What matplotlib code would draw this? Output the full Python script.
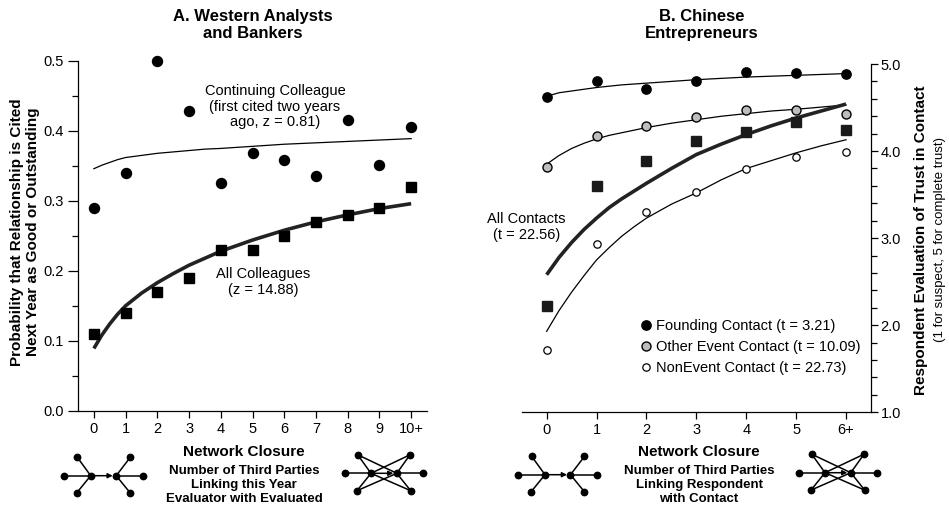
import matplotlib
matplotlib.use("Agg")
import matplotlib.pyplot as plt
from matplotlib.ticker import MultipleLocator, FormatStrFormatter

plt.rcParams['font.family'] = ['Liberation Sans', 'DejaVu Sans']

# ---- Panel A: Western analysts and bankers ----
a_closure = list(range(11))
a_ticklabels = [str(i) for i in range(10)] + ['10+']
a_continuing = [0.290, 0.340, 0.500, 0.429, 0.325, 0.369, 0.358, 0.336, 0.415, 0.351, 0.406]
a_all = [0.110, 0.140, 0.170, 0.190, 0.230, 0.230, 0.250, 0.270, 0.280, 0.290, 0.320]
a_fit_x = [0, 0.25, 0.5, 0.75, 1, 1.5, 2, 2.5, 3, 3.5, 4, 5, 6, 7, 8, 9, 10]
a_fit_continuing = [0.346, 0.351, 0.355, 0.359, 0.362, 0.365, 0.368, 0.370, 0.372, 0.374,
                    0.375, 0.378, 0.381, 0.383, 0.385, 0.387, 0.389]
a_fit_all = [0.089, 0.108, 0.124, 0.138, 0.150, 0.168, 0.183, 0.196, 0.208, 0.218,
             0.228, 0.244, 0.258, 0.270, 0.280, 0.289, 0.296]

# ---- Panel B: Chinese entrepreneurs ----
b_closure = list(range(7))
b_ticklabels = ['0', '1', '2', '3', '4', '5', '6+']
b_founding = [4.625, 4.80, 4.71, 4.80, 4.91, 4.90, 4.89]
b_other = [3.82, 4.17, 4.29, 4.39, 4.47, 4.47, 4.43]
b_nonevent = [1.72, 2.93, 3.30, 3.53, 3.79, 3.93, 3.99]
b_all = [2.22, 3.60, 3.89, 4.11, 4.22, 4.33, 4.24]
b_fit_x = [0, 0.25, 0.5, 0.75, 1, 1.25, 1.5, 1.75, 2, 2.5, 3, 3.5, 4, 4.5, 5, 5.5, 6]
b_fit_founding = [4.63, 4.67, 4.69, 4.71, 4.73, 4.745, 4.76, 4.77, 4.78, 4.80, 4.82,
                  4.835, 4.85, 4.86, 4.87, 4.88, 4.89]
b_fit_other = [3.85, 3.95, 4.03, 4.09, 4.14, 4.18, 4.21, 4.24, 4.27, 4.32, 4.36,
               4.40, 4.43, 4.46, 4.48, 4.505, 4.53]
b_fit_all = [2.58, 2.78, 2.95, 3.10, 3.23, 3.35, 3.45, 3.54, 3.63, 3.80, 3.96,
             4.08, 4.19, 4.29, 4.38, 4.46, 4.54]
b_fit_nonevent = [1.93, 2.17, 2.38, 2.57, 2.75, 2.89, 3.02, 3.13, 3.23, 3.39, 3.52,
                  3.67, 3.80, 3.89, 3.98, 4.06, 4.13]

W, H = 949, 511
fig = plt.figure(figsize=(W / 100, H / 100), dpi=100)


def fx(px):
    return px / W


def fy(py):
    return 1 - py / H


def style_axis(ax):
    for s in ax.spines.values():
        s.set_linewidth(0.9)
    ax.tick_params(which='major', length=5, width=0.9, labelsize=10.5, pad=3)
    ax.tick_params(which='minor', length=4, width=0.9)
    ax.tick_params(axis='x', which='minor', bottom=False)


# panel A
axA = fig.add_axes([fx(78), fy(410.7), fx(427 - 78), (410.7 - 61) / H])
axA.plot(a_fit_x, a_fit_continuing, color='black', lw=0.9)
axA.plot(a_fit_x, a_fit_all, color='#222222', lw=2.6, solid_capstyle='butt')
axA.plot(a_closure, a_continuing, 'o', color='black', ms=7.2, clip_on=False, zorder=3)
axA.plot(a_closure, a_all, 's', color='black', ms=6.8, clip_on=False, zorder=3)
axA.set_xlim(-0.5, 10.5)
axA.set_ylim(0, 0.5)
axA.set_xticks(a_closure)
axA.set_xticklabels(a_ticklabels)
axA.yaxis.set_major_locator(MultipleLocator(0.1))
axA.yaxis.set_minor_locator(MultipleLocator(0.05))
axA.yaxis.set_major_formatter(FormatStrFormatter('%.1f'))
axA.spines['top'].set_visible(False)
axA.spines['right'].set_visible(False)
style_axis(axA)
axA.tick_params(axis='y', which='major', length=7.5)
axA.text(5.71, 0.4345, 'Continuing Colleague\n(first cited two years\nago, z = 0.81)',
         ha='center', va='center', fontsize=10.5, linespacing=1.15)
axA.text(5.33, 0.184, 'All Colleagues\n(z = 14.88)', ha='center', va='center',
         fontsize=10.5, linespacing=1.15)

# panel B
axB = fig.add_axes([fx(521.7), fy(412.3), fx(871 - 521.7), (412.3 - 64) / H])
axB.plot(b_fit_x, b_fit_founding, color='black', lw=0.9)
axB.plot(b_fit_x, b_fit_other, color='black', lw=0.9)
axB.plot(b_fit_x, b_fit_nonevent, color='black', lw=0.9)
axB.plot(b_fit_x, b_fit_all, color='#222222', lw=2.6, solid_capstyle='butt')
axB.plot(b_closure, b_all, 's', color='#1a1a1a', ms=6.5, clip_on=False, zorder=3)
axB.plot(b_closure, b_founding, 'o', color='black', ms=6.7, clip_on=False, zorder=3,
         label='Founding Contact (t = 3.21)')
axB.plot(b_closure, b_other, 'o', mfc='#bdbdbd', mec='black', mew=1.0, ms=6.5,
         clip_on=False, zorder=3, label='Other Event Contact (t = 10.09)')
axB.plot(b_closure, b_nonevent, 'o', mfc='white', mec='black', mew=0.9, ms=5.3,
         clip_on=False, zorder=3, label='NonEvent Contact (t = 22.73)')
axB.set_xlim(-0.5, 6.5)
axB.set_ylim(1, 5)
axB.set_xticks(b_closure)
axB.set_xticklabels(b_ticklabels)
axB.yaxis.tick_right()
axB.yaxis.set_major_locator(MultipleLocator(1.0))
axB.yaxis.set_minor_locator(MultipleLocator(0.2))
axB.yaxis.set_major_formatter(FormatStrFormatter('%.1f'))
axB.spines['top'].set_visible(False)
axB.spines['left'].set_visible(False)
style_axis(axB)
axB.tick_params(axis='y', which='major', pad=2)
axB.text(-0.41, 3.13, 'All Contacts\n(t = 22.56)', ha='center', va='center',
         fontsize=10.5, linespacing=1.15)
axB.legend(loc='upper left', bbox_to_anchor=(fx(640.6), fy(319)), bbox_transform=fig.transFigure,
           frameon=False, fontsize=10.5, handlelength=0.7, handletextpad=0.35,
           borderpad=0, borderaxespad=0, labelspacing=0.47)

# titles and axis labels
fig.text(fx(253), fy(25), 'A. Western Analysts\nand Bankers', ha='center', va='center',
         fontsize=12, fontweight='bold', linespacing=1.2)
fig.text(fx(702), fy(25), 'B. Chinese\nEntrepreneurs', ha='center', va='center',
         fontsize=12, fontweight='bold', linespacing=1.2)
fig.text(fx(25), fy(232), 'Probability that Relationship is Cited\nNext Year as Good or Outstanding',
         rotation=90, ha='center', va='center', fontsize=11, fontweight='bold', linespacing=1.2)
fig.text(fx(921), fy(240), 'Respondent Evaluation of Trust in Contact', rotation=90,
         ha='center', va='center', fontsize=11, fontweight='bold')
fig.text(fx(940), fy(240), '(1 for suspect, 5 for complete trust)', rotation=90,
         ha='center', va='center', fontsize=9.5)

for cx, lines in [(244, 'Number of Third Parties\nLinking this Year\nEvaluator with Evaluated'),
                  (699, 'Number of Third Parties\nLinking Respondent\nwith Contact')]:
    fig.text(fx(cx), fy(452), 'Network Closure', ha='center', va='center',
             fontsize=11, fontweight='bold')
    fig.text(fx(cx), fy(485), lines, ha='center', va='center',
             fontsize=9.5, fontweight='bold', linespacing=1.2)

# small network diagrams under the x axes
ov = fig.add_axes([0, 0, 1, 1])
ov.set_xlim(0, W)
ov.set_ylim(H, 0)
ov.axis('off')


def node(x, y):
    ov.plot(x, y, 'o', color='black', ms=4.6, zorder=3)


def edge(p, q):
    ov.plot([p[0], q[0]], [p[1], q[1]], color='black', lw=1.1)


def arrow(p, q):
    ov.annotate('', xy=q, xytext=p,
                arrowprops=dict(arrowstyle='-|>', color='black', lw=1.1,
                                mutation_scale=7, shrinkA=0, shrinkB=2.5))


def open_pair(cx, cy):
    c = (cx, cy)
    c2 = (cx + 25.5, cy)
    left = [(cx - 26.5, cy), (cx - 13.3, cy - 18.3), (cx - 14, cy + 17.2)]
    right = [(c2[0] + 26.5, cy), (c2[0] + 14, cy - 18.3), (c2[0] + 14, cy + 17.2)]
    for p in left:
        edge(p, c)
        node(*p)
    for p in right:
        edge(c2, p)
        node(*p)
    arrow(c, c2)
    node(*c)
    node(*c2)


def closed_pair(lx, cy):
    a = (lx, cy)
    b = (lx + 25.8, cy)
    outer = [(lx - 26, cy), (lx + 51.8, cy)]
    thirds = [(lx - 13.3, cy - 18.5), (lx + 39, cy - 18.5),
              (lx - 14, cy + 17.4), (lx + 39.7, cy + 17.4)]
    edge(outer[0], a)
    edge(b, outer[1])
    for p in thirds:
        edge(p, a)
        edge(p, b)
        node(*p)
    for p in outer:
        node(*p)
    arrow(a, b)
    node(*a)
    node(*b)


open_pair(90.7, 475.7)
closed_pair(371, 473.3)
open_pair(545, 474.7)
closed_pair(825, 472.7)

fig.savefig('out.png', dpi=100)
